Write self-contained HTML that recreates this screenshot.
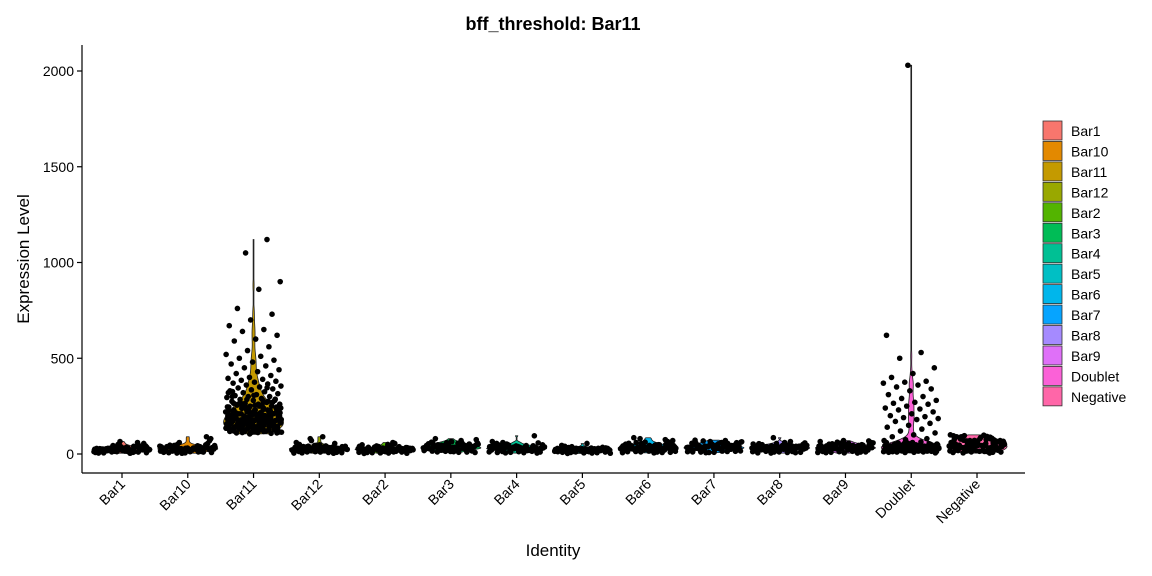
<!DOCTYPE html>
<html><head><meta charset="utf-8"><style>
html,body{margin:0;padding:0;background:#fff;}
svg{display:block;font-family:"Liberation Sans",Arial,sans-serif;}
</style></head><body>
<svg id="chart" width="1152" height="576" viewBox="0 0 1152 576">
<text x="553" y="30" text-anchor="middle" font-size="18" font-weight="bold" fill="#000">bff_threshold: Bar11</text>
<text x="553" y="556" text-anchor="middle" font-size="17" fill="#000">Identity</text>
<text transform="translate(29,259) rotate(-90)" text-anchor="middle" font-size="17" fill="#000">Expression Level</text>
<g id="plot"></g>
<g id="legend"></g>
</svg>
<script>
const categories=["Bar1","Bar10","Bar11","Bar12","Bar2","Bar3","Bar4","Bar5","Bar6","Bar7","Bar8","Bar9","Doublet","Negative"];
const colors=["#F8766D","#E38900","#C49A00","#99A800","#53B400","#00BC56","#00C094","#00BFC4","#00B6EB","#06A4FF","#A58AFF","#DF70F8","#FB61D7","#FF66A8"];
const yTicks=[0,500,1000,1500,2000];
const vBar1=[12,25,18,30,22,15,40,28,35,20,10,45,33,26,19,24,55,31,17,38,29,21,14,27,36,48,23,16,32,42,20,26,60,34,25,18,30,22,37,28,13,44,27,35,24,19,50,29,8,21,33,17,26,39,14,23,31,18,27,65,5,9,11,7,15,6,10,12,8,4];
const vBar10=[20,35,28,15,42,30,25,18,50,33,22,40,27,12,38,29,45,24,31,17,36,60,26,21,34,48,19,30,43,25,80,23,37,16,28,41,32,20,55,27,14,39,26,33,22,46,30,18,35,24,29,70,21,38,13,27,44,31,25,90,6,9,11,5,8,12,7,10,4,15];
const vBar11=[1120,1050,900,860,760,730,700,670,650,640,620,600,590,560,540,520,510,500,490,480,470,460,450,440,430,420,410,400,395,390,385,380,375,370,365,360,355,350,345,340,335,330,325,320,315,310,305,300,300,295,290,285,280,280,275,270,265,260,260,255,250,250,245,240,240,235,230,230,225,220,220,215,210,210,205,200,200,198,195,190,190,188,185,182,180,178,175,172,170,168,165,162,160,158,155,152,150,150,148,145,142,140,140,138,135,132,130,128,125,122,120,118,115,112,110,108,105,320,280,260,240,230,210,200,190,180,170,160,150,140,130,120,250,220,200,185,175,165,155,145,135,125,115,300,270,245,215,195,180,160,145,130,118,112,
110,115,120,125,130,135,140,145,150,155,160,165,170,175,180,185,190,195,200,205,210,215,220,225,230,235,240,250,260,270,112,118,122,128,132,138,142,148,152,158,162,168,172,178,182,188,192,198,202,208,212,218,225,232,238,245,255,265,275,285,114,126,136,146,156,166,176,186,196,206,216,226,236,246,256,266,286,306,326,346];
const vBar12=[22,35,18,40,28,15,30,45,25,33,20,38,27,50,17,31,24,42,29,19,36,60,26,21,34,90,23,30,44,16,28,37,25,48,20,32,70,26,18,39,29,22,35,14,41,27,33,24,55,30,21,38,26,19,43,31,23,80,28,36,6,9,12,5,8,11,7,10,13,4];
const vBar2=[15,25,20,30,18,35,22,28,12,40,24,19,33,26,16,38,21,29,45,23,17,31,27,14,36,22,50,25,19,32,28,60,20,34,24,13,30,42,26,18,35,23,29,21,55,27,16,33,25,20,39,22,31,17,28,24,48,19,26,30,5,8,10,6,9,11,7,4,12,3];
const vBar3=[25,40,30,55,20,45,35,60,28,50,33,22,48,38,65,27,42,31,58,24,36,52,29,44,70,26,39,34,62,21,47,32,56,37,41,23,53,30,46,75,28,43,35,59,25,49,33,38,64,27,44,31,51,36,80,29,40,34,57,26,8,12,15,10,14,18,9,11,16,13];
const vBar4=[20,35,28,45,18,40,30,25,50,33,22,38,27,60,24,42,31,19,36,48,26,34,95,29,21,44,32,23,39,55,28,17,37,30,46,25,33,41,22,52,27,35,20,43,31,26,38,24,58,29,34,21,47,32,28,40,23,36,65,30,6,10,12,8,14,9,11,7,13,5];
const vBar5=[15,22,18,28,12,25,20,32,16,24,19,30,14,26,21,35,17,23,27,13,29,20,40,18,24,16,31,22,19,26,45,14,28,21,17,33,23,20,25,18,38,15,27,22,30,19,24,16,34,21,28,17,26,23,20,55,18,25,22,29,5,8,10,6,9,7,11,4,12,3];
const vBar6=[20,38,28,50,22,42,32,60,25,45,35,18,55,30,40,27,65,33,24,48,36,70,29,44,21,52,34,39,26,58,31,46,23,80,37,28,43,35,62,25,49,32,41,19,56,30,38,27,47,85,33,24,51,36,29,44,22,39,75,34,7,10,13,9,15,12,8,11,14,6];
const vBar7=[22,40,30,52,25,45,35,58,28,48,33,20,55,38,62,27,42,31,50,24,36,68,29,46,72,26,39,34,60,21,47,32,56,37,41,23,53,30,44,65,28,43,35,59,25,49,33,38,64,27,44,31,51,36,70,29,40,34,57,26,8,12,15,10,14,9,11,13,7,16];
const vBar8=[20,35,28,45,22,40,30,52,25,38,33,18,48,27,42,31,60,24,36,55,29,44,21,50,34,39,26,85,31,46,23,41,37,28,43,35,58,25,49,32,41,19,47,30,38,27,54,33,24,45,36,29,40,22,39,65,34,26,43,31,7,10,12,8,14,9,11,6,13,5];
const vBar9=[20,38,28,48,22,42,32,55,25,45,35,18,52,30,40,27,60,33,24,46,36,65,29,44,21,50,34,39,26,58,31,47,23,70,37,28,43,35,56,25,49,32,41,19,53,30,38,27,45,62,33,24,51,36,29,44,22,39,68,34,7,10,12,8,14,9,11,6,13,5];
const vDoublet=[2030,620,530,500,450,420,400,380,375,370,360,350,340,330,310,300,290,280,270,265,260,250,240,235,230,220,210,200,195,190,185,180,170,160,150,140,130,120,110,100,90,80,75,70,20,35,28,45,22,40,30,52,25,38,33,18,48,27,42,31,60,24,36,55,29,44,21,50,34,39,26,31,46,23,41,37,28,43,35,58,25,49,32,41,19,47,30,38,27,54,33,24,45,36,29,40,22,
8,12,15,10,14,18,9,11,16,13,20,25,30,35,40,22,27,32,37,42,24,29,34,39,44,26,31,36,41,46,6,9,12,15,18,21,24,27,30,33,36,39,42,45,48,51,54,57,60,63];
const vNegative=[30,55,40,75,25,65,45,90,35,70,50,20,85,60,42,95,32,68,48,80,28,58,38,100,45,72,26,62,52,88,34,66,44,78,22,56,40,92,36,70,48,30,82,60,42,98,33,64,50,76,27,58,39,86,46,74,24,60,54,96,31,68,43,79,21,57,41,90,37,71,8,12,15,10,14,18,9,11,16,13,6,20,17,19,5];
const values=[vBar1,vBar10,vBar11,vBar12,vBar2,vBar3,vBar4,vBar5,vBar6,vBar7,vBar8,vBar9,vDoublet,vNegative];

const NS="http://www.w3.org/2000/svg";
const X0=82,X1=1025,Y0=45,Y1=473;
const xScale=i=>122+i*65.77;
const yScale=v=>454-v*(95.75/500);
function mk(tag,attrs,parent){const e=document.createElementNS(NS,tag);for(const k in attrs)e.setAttribute(k,attrs[k]);parent.appendChild(e);return e;}
const plot=document.getElementById('plot');

let ax=mk('line',{x1:X0,y1:Y0,x2:X0,y2:Y1,stroke:'#000','stroke-width':1.2},plot);


let axx=mk('line',{x1:X0,y1:Y1,x2:X1,y2:Y1,stroke:'#000','stroke-width':1.2},plot);


yTicks.forEach(t=>{
  const y=yScale(t);
  const tk=mk('line',{x1:X0-5,y1:y,x2:X0,y2:y,stroke:'#000','stroke-width':1.2},plot);
  
  
  const tx=mk('text',{x:X0-8,y:y+5,'text-anchor':'end','font-size':14,fill:'#000'},plot);
  tx.textContent=t;
  
  
});
categories.forEach((c,i)=>{
  const x=xScale(i);
  const tk=mk('line',{x1:x,y1:Y1,x2:x,y2:Y1+5,stroke:'#000','stroke-width':1.2},plot);
  
  
  const tx=mk('text',{transform:`translate(${x+4},${Y1+12}) rotate(-45)`,'text-anchor':'end','font-size':14,fill:'#000'},plot);
  tx.textContent=c;
  
  
});

values.forEach((vals,i)=>{
  const mn=Math.min(...vals),mx=Math.max(...vals);
  const n=vals.length;
  const sorted=[...vals].sort((a,b)=>a-b);
  const iqr=(sorted[Math.floor(n*0.75)]-sorted[Math.floor(n*0.25)])/1.34||1;
  const bw=0.9*iqr*Math.pow(n,-0.2);
  const steps=200,pts=[];let dmax=0;
  for(let s=0;s<=steps;s++){
    const v=mn+(mx-mn)*s/steps;let d=0;
    vals.forEach(u=>{const z=(v-u)/bw;d+=Math.exp(-0.5*z*z);});
    pts.push([v,d]);if(d>dmax)dmax=d;
  }
  const cx=xScale(i),hw=30;
  let dstr='';
  pts.forEach((p,k)=>{dstr+=(k?'L':'M')+(cx+Math.max(p[1]/dmax*hw,0.4)).toFixed(2)+','+yScale(p[0]).toFixed(2);});
  for(let k=pts.length-1;k>=0;k--){const p=pts[k];dstr+='L'+(cx-Math.max(p[1]/dmax*hw,0.4)).toFixed(2)+','+yScale(p[0]).toFixed(2);}
  dstr+='Z';
  const vp=mk('path',{d:dstr,fill:colors[i],stroke:'#222','stroke-width':0.8},plot);
  
  
});

values.forEach((vals,i)=>{
  const cx=xScale(i);
  const g=mk('g',{},plot);
  
  
  vals.forEach((v,k)=>{
    const j=((k*0.6180339+i*0.37)%1)-0.5;
    const c=mk('circle',{cx:(cx+j*56).toFixed(2),cy:yScale(v).toFixed(2),r:2.8,fill:'#000'},g);
    
    
  });
});

const leg=document.getElementById('legend');
categories.forEach((c,i)=>{
  const y=121+i*20.45;
  const r=mk('rect',{x:1043,y:y,width:19,height:19,fill:colors[i],stroke:'#333','stroke-width':0.8},leg);
  
  
  const t=mk('text',{x:1071,y:y+15,'font-size':14,fill:'#000'},leg);
  t.textContent=c;
  
  
});
</script>
</body></html>
